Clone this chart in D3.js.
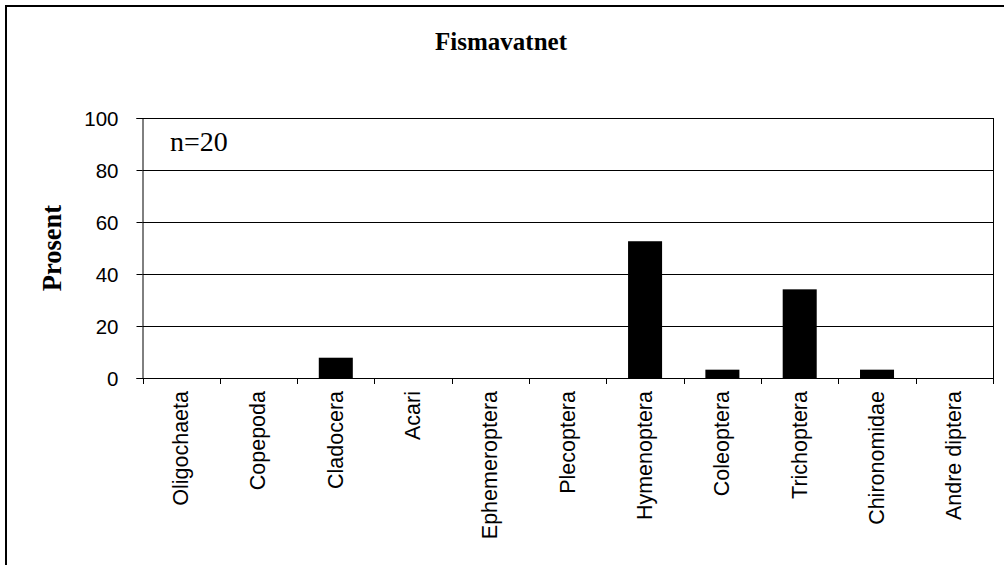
<!DOCTYPE html>
<html>
<head>
<meta charset="utf-8">
<script src="https://cdn.jsdelivr.net/npm/d3@7"></script>
<style>
  html, body { margin: 0; padding: 0; background: #fff; }
  svg { display: block; }
</style>
</head>
<body>
<svg id="chart" width="1004" height="565"></svg>
<script>
const categories = ["Oligochaeta", "Copepoda", "Cladocera", "Acari", "Ephemeroptera", "Plecoptera",
                    "Hymenoptera", "Coleoptera", "Trichoptera", "Chironomidae", "Andre diptera"];
const values = [0, 0, 7.8, 0, 0, 0, 52.6, 3.2, 34.1, 3.2, 0];
const yTicks = [0, 20, 40, 60, 80, 100];
const title = "Fismavatnet";
const yTitle = "Prosent";
const note = "n=20";

const svg = d3.select("#chart");
const W = 1004, H = 565;
const plot = { left: 142.5, right: 993, top: 118, bottom: 378 };

svg.append("rect").attr("width", W).attr("height", H).attr("fill", "#fff");
// outer chart frame
svg.append("rect").attr("x", 6).attr("y", 6).attr("width", 1010).attr("height", 600)
   .attr("fill", "none").attr("stroke", "#000").attr("stroke-width", 2);

const x = d3.scaleBand().domain(categories).range([plot.left, plot.right]).paddingInner(0.56).paddingOuter(0.28);
const xb = d3.scaleBand().domain(categories).range([plot.left, plot.right]);
const y = d3.scaleLinear().domain([0, 100]).range([plot.bottom, plot.top]);

// gridlines
svg.append("g").selectAll("line").data(yTicks.filter(d => d > 0)).join("line")
  .attr("x1", plot.left).attr("x2", plot.right)
  .attr("y1", d => Math.round(y(d)) + 0.5).attr("y2", d => Math.round(y(d)) + 0.5)
  .attr("stroke", "#000").attr("stroke-width", 1);

// right border of plot
svg.append("line").attr("x1", plot.right + 0.5).attr("x2", plot.right + 0.5)
  .attr("y1", plot.top).attr("y2", plot.bottom).attr("stroke", "#000");

// bars
svg.append("g").selectAll("rect").data(categories.map((c, i) => ({ c, v: values[i] })).filter(d => d.v > 0)).join("rect")
  .attr("x", d => x(d.c)).attr("width", x.bandwidth())
  .attr("y", d => y(d.v)).attr("height", d => y(0) - y(d.v))
  .attr("fill", "#000");

// y axis
const yAxis = d3.axisLeft(y).tickValues(yTicks).tickSize(6).tickPadding(18);
const gy = svg.append("g").attr("transform", `translate(${plot.left},0)`).call(yAxis);
gy.select(".domain").attr("stroke", "#000");
gy.selectAll(".tick line").attr("stroke", "#000");
gy.selectAll("text").attr("font-family", "Liberation Sans, Arial, sans-serif").attr("font-size", 20.5).attr("fill", "#000")
  .attr("dy", "0.36em");

// x axis (baseline + ticks at band edges)
const gx = svg.append("g");
gx.append("line").attr("x1", plot.left).attr("x2", plot.right + 1)
  .attr("y1", plot.bottom + 0.5).attr("y2", plot.bottom + 0.5).attr("stroke", "#000");
const edges = categories.map(c => xb(c)).concat([plot.right]);
gx.selectAll("line.tk").data(edges).join("line").attr("class", "tk")
  .attr("x1", d => Math.round(d) + 0.5).attr("x2", d => Math.round(d) + 0.5)
  .attr("y1", plot.bottom).attr("y2", plot.bottom + 6).attr("stroke", "#000");
gx.selectAll("text").data(categories).join("text")
  .attr("transform", d => `translate(${xb(d) + xb.bandwidth() / 2 + 7},${391}) rotate(-90)`)
  .attr("text-anchor", "end")
  .attr("font-family", "Liberation Sans, Arial, sans-serif").attr("font-size", 21.5)
  .text(d => d);

// title
svg.append("text").attr("x", 501).attr("y", 50).attr("text-anchor", "middle")
  .attr("font-family", "Liberation Serif, Times New Roman, serif").attr("font-weight", "bold")
  .attr("font-size", 25).text(title);

// y title
svg.append("text").attr("transform", "translate(61,248) rotate(-90)").attr("text-anchor", "middle")
  .attr("font-family", "Liberation Serif, Times New Roman, serif").attr("font-weight", "bold")
  .attr("font-size", 26.5).text(yTitle);

// n note
svg.append("text").attr("x", 170).attr("y", 151)
  .attr("font-family", "Liberation Serif, Times New Roman, serif")
  .attr("font-size", 28).text(note);
</script>
</body>
</html>
